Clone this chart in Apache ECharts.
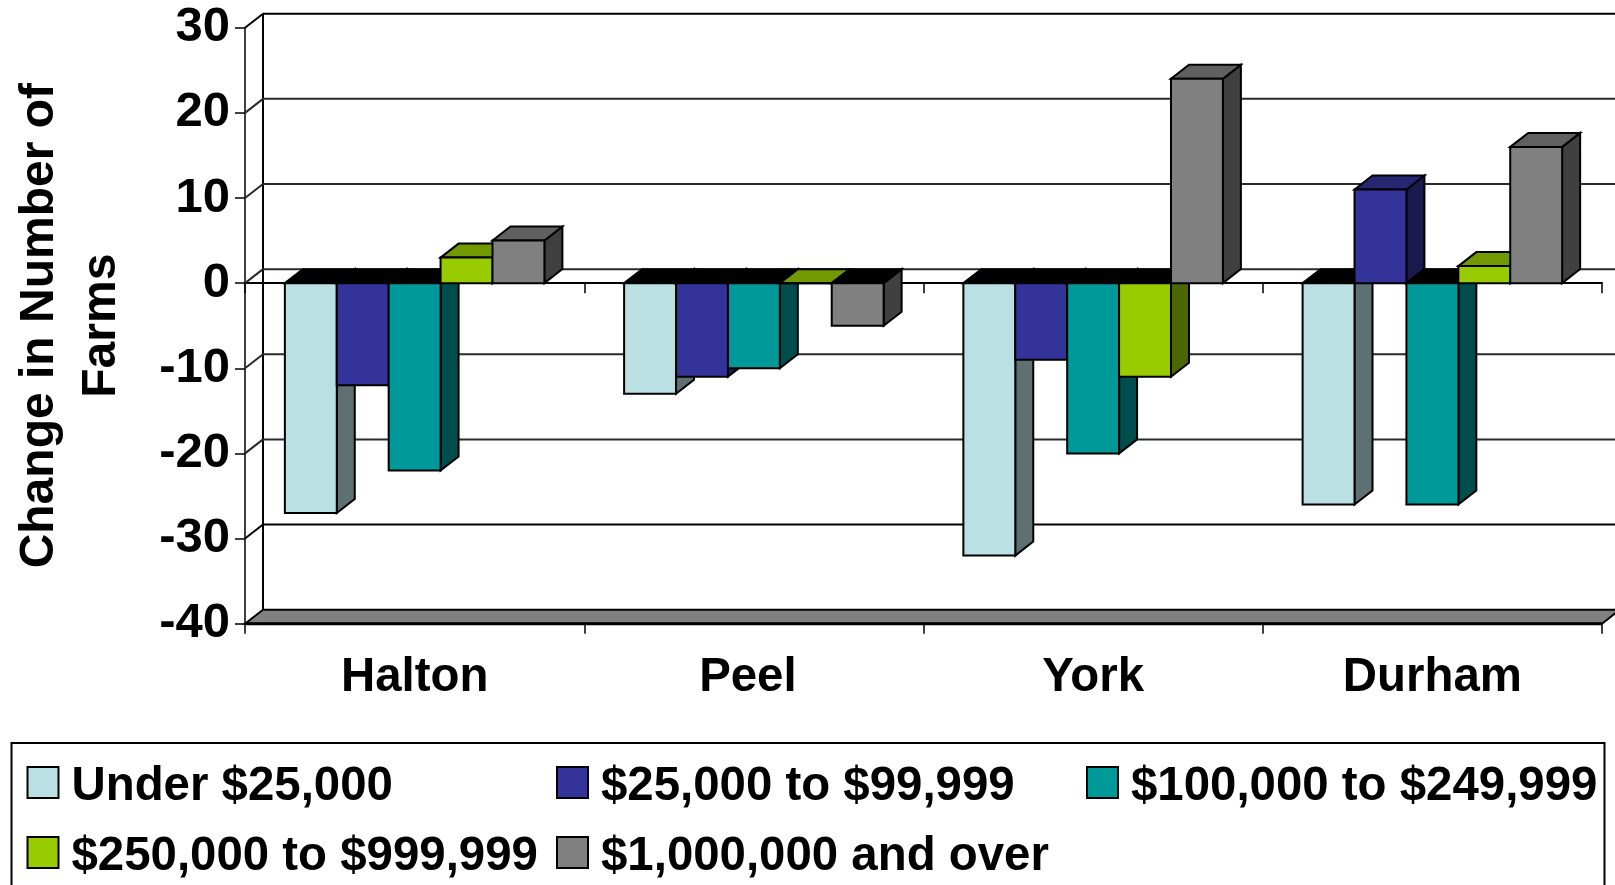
<!DOCTYPE html>
<html>
<head>
<meta charset="utf-8">
<style>html,body{margin:0;padding:0;background:#fff;overflow:hidden}#c{width:1615px;height:885px}</style>
<script src="https://cdn.jsdelivr.net/npm/echarts@6/dist/echarts.min.js"></script>
</head>
<body>
<div id="c"></div>
<script>
const categories = ['Halton', 'Peel', 'York', 'Durham'];
const seriesNames = ['Under $25,000', '$25,000 to $99,999', '$100,000 to $249,999', '$250,000 to $999,999', '$1,000,000 and over'];
const under25k = [-27, -13, -32, -26];
const from25k = [-12, -11, -9, 11];
const from100k = [-22, -10, -20, -26];
const from250k = [3, 0, -11, 2];
const over1m = [5, -5, 24, 16];
const yTicks = [-40, -30, -20, -10, 0, 10, 20, 30];

const frontColors = ['#BBE0E3', '#333399', '#009999', '#99CC00', '#808080'];
const sideColors = ['#5E7072', '#1A1A4D', '#004D4D', '#4D6600', '#404040'];
const topColors = ['#8CA8AA', '#262673', '#007373', '#739900', '#606060'];
const allValues = [under25k, from25k, from100k, from250k, over1m];

const DX = 18, DY = 14, BAR_RATIO = 0.153;
const FONT = '"Liberation Sans", Arial, sans-serif';

function wallItem(params, api) {
  const cs = params.coordSys;
  const L = cs.x, R = cs.x + cs.width;
  const v = api.value(1);
  const y = api.coord([0, v])[1];
  const children = [];
  const isMax = v === yTicks[yTicks.length - 1];
  const isMin = v === yTicks[0];
  const stroke = { stroke: (isMax || isMin || v === -30) ? '#000' : '#2a2a2a', lineWidth: 2, fill: null };
  if (isMin) {
    children.push({ type: 'polygon', shape: { points: [[L, y], [L + DX, y - DY], [R + DX, y - DY], [R, y]] },
      style: { fill: '#808080', stroke: '#000', lineWidth: 2 } });
    children.push({ type: 'line', shape: { x1: L, y1: y, x2: R, y2: y }, style: { stroke: '#000', lineWidth: 3 } });
    children.push({ type: 'line', shape: { x1: L + DX, y1: cs.y - DY, x2: L + DX, y2: y - DY }, style: { stroke: '#000', lineWidth: 2 } });
  } else {
    children.push({ type: 'line', shape: { x1: L, y1: y, x2: L + DX, y2: y - DY }, style: stroke });
    children.push({ type: 'line', shape: { x1: L + DX, y1: y - DY, x2: R + DX, y2: y - DY }, style: stroke });
  }
  return { type: 'group', children };
}

function barItem(seriesPos) {
  return function (params, api) {
    const idx = api.value(0), val = api.value(1);
    const band = api.size([1, 0])[0];
    const cx = api.coord([idx, 0])[0];
    const y0 = api.coord([idx, 0])[1];
    const yv = api.coord([idx, val])[1];
    const w = band * BAR_RATIO;
    const x1 = cx + (seriesPos - 2.5) * w, x2 = x1 + w;
    const line = { stroke: '#000', lineWidth: 2, lineJoin: 'miter' };
    const hi = Math.min(y0, yv), lo = Math.max(y0, yv);
    const topFill = val < 0 ? '#000' : topColors[seriesPos];
    return { type: 'group', children: [
      { type: 'polygon', shape: { points: [[x2, hi], [x2 + DX, hi - DY], [x2 + DX, lo - DY], [x2, lo]] },
        style: Object.assign({ fill: sideColors[seriesPos] }, line) },
      { type: 'polygon', shape: { points: [[x1, hi], [x1 + DX, hi - DY], [x2 + DX, hi - DY], [x2, hi]] },
        style: Object.assign({ fill: topFill }, line) },
      { type: 'rect', shape: { x: x1, y: hi, width: w, height: lo - hi },
        style: Object.assign({ fill: frontColors[seriesPos] }, line) }
    ] };
  };
}

const series = [{
  type: 'custom', name: 'walls', z: 1, silent: true, renderItem: wallItem,
  encode: { x: 0, y: 1 }, data: yTicks.map(v => [0, v])
}].concat(seriesNames.map((name, s) => ({
  type: 'custom', name, z: 3 + s, silent: true, renderItem: barItem(s),
  itemStyle: { color: frontColors[s], borderColor: '#000', borderWidth: 2 },
  encode: { x: 0, y: 1 },
  data: allValues[s].map((v, i) => [i, v])
})));

const legendFontStyle = { fontFamily: FONT, fontWeight: 'bold', fontSize: 47.4, color: '#000' };

function legendCol(left, names) {
  return {
    orient: 'vertical', left, top: 755, padding: 0, itemGap: 15, itemWidth: 31, itemHeight: 31,
    icon: 'rect', selectedMode: false, data: names,
    itemStyle: { borderColor: '#000', borderWidth: 2 },
    formatter: name => '{t|' + name + '}',
    textStyle: Object.assign({}, legendFontStyle, {
      padding: [0, 0, 0, 8],
      rich: { t: Object.assign({}, legendFontStyle, { lineHeight: 50, padding: [8, 0, 0, 0] }) }
    })
  };
}

const chart = echarts.init(document.getElementById('c'), null, { renderer: 'canvas' });
chart.setOption({
  animation: false,
  backgroundColor: '#fff',
  grid: { left: 245, right: 13, top: 27.7, bottom: 261.3, containLabel: false, outerBoundsMode: 'none' },
  xAxis: [{
    type: 'category', position: 'bottom',
    data: categories.map(c => c === 'Peel' ? { value: c, textStyle: { padding: [0, 12, 0, 0] } } : c),
    axisLine: { onZero: false, lineStyle: { color: '#000', width: 2 } },
    axisTick: { show: true, length: 10, lineStyle: { color: '#000', width: 1.5 } },
    axisLabel: { fontFamily: FONT, fontWeight: 'bold', fontSize: 47.4, color: '#000', margin: 31, interval: 0 },
    splitLine: { show: false }
  }, {
    type: 'category', data: categories, position: 'bottom',
    axisLine: { onZero: true, lineStyle: { color: '#000', width: 2 } },
    axisTick: { show: true, length: 10, lineStyle: { color: '#000', width: 1.5 } },
    axisLabel: { show: false }, splitLine: { show: false }
  }],
  yAxis: {
    type: 'value', min: -40, max: 30, interval: 10,
    name: 'Change in Number of\nFarms', nameLocation: 'middle', nameGap: 112, nameRotate: 90,
    nameTextStyle: { fontFamily: FONT, fontWeight: 'bold', fontSize: 48, color: '#000', lineHeight: 62 },
    axisLine: { show: true, lineStyle: { color: '#000', width: 1.5 } },
    axisTick: { show: true, length: 10, lineStyle: { color: '#000', width: 1.5 } },
    axisLabel: { fontFamily: FONT, fontWeight: 'bold', fontSize: 49, color: '#000', margin: 15, padding: [4, 0, 0, 0] },
    splitLine: { show: false }
  },
  legend: [
    legendCol(26.5, [seriesNames[0], seriesNames[3]]),
    legendCol(556, [seriesNames[1], seriesNames[4]]),
    legendCol(1086, [seriesNames[2]])
  ],
  graphic: [{
    type: 'rect', silent: true, z: -1,
    shape: { x: 11.5, y: 743, width: 1593, height: 160 },
    style: { fill: '#fff', stroke: '#000', lineWidth: 2 }
  }],
  series
});
</script>
</body>
</html>
